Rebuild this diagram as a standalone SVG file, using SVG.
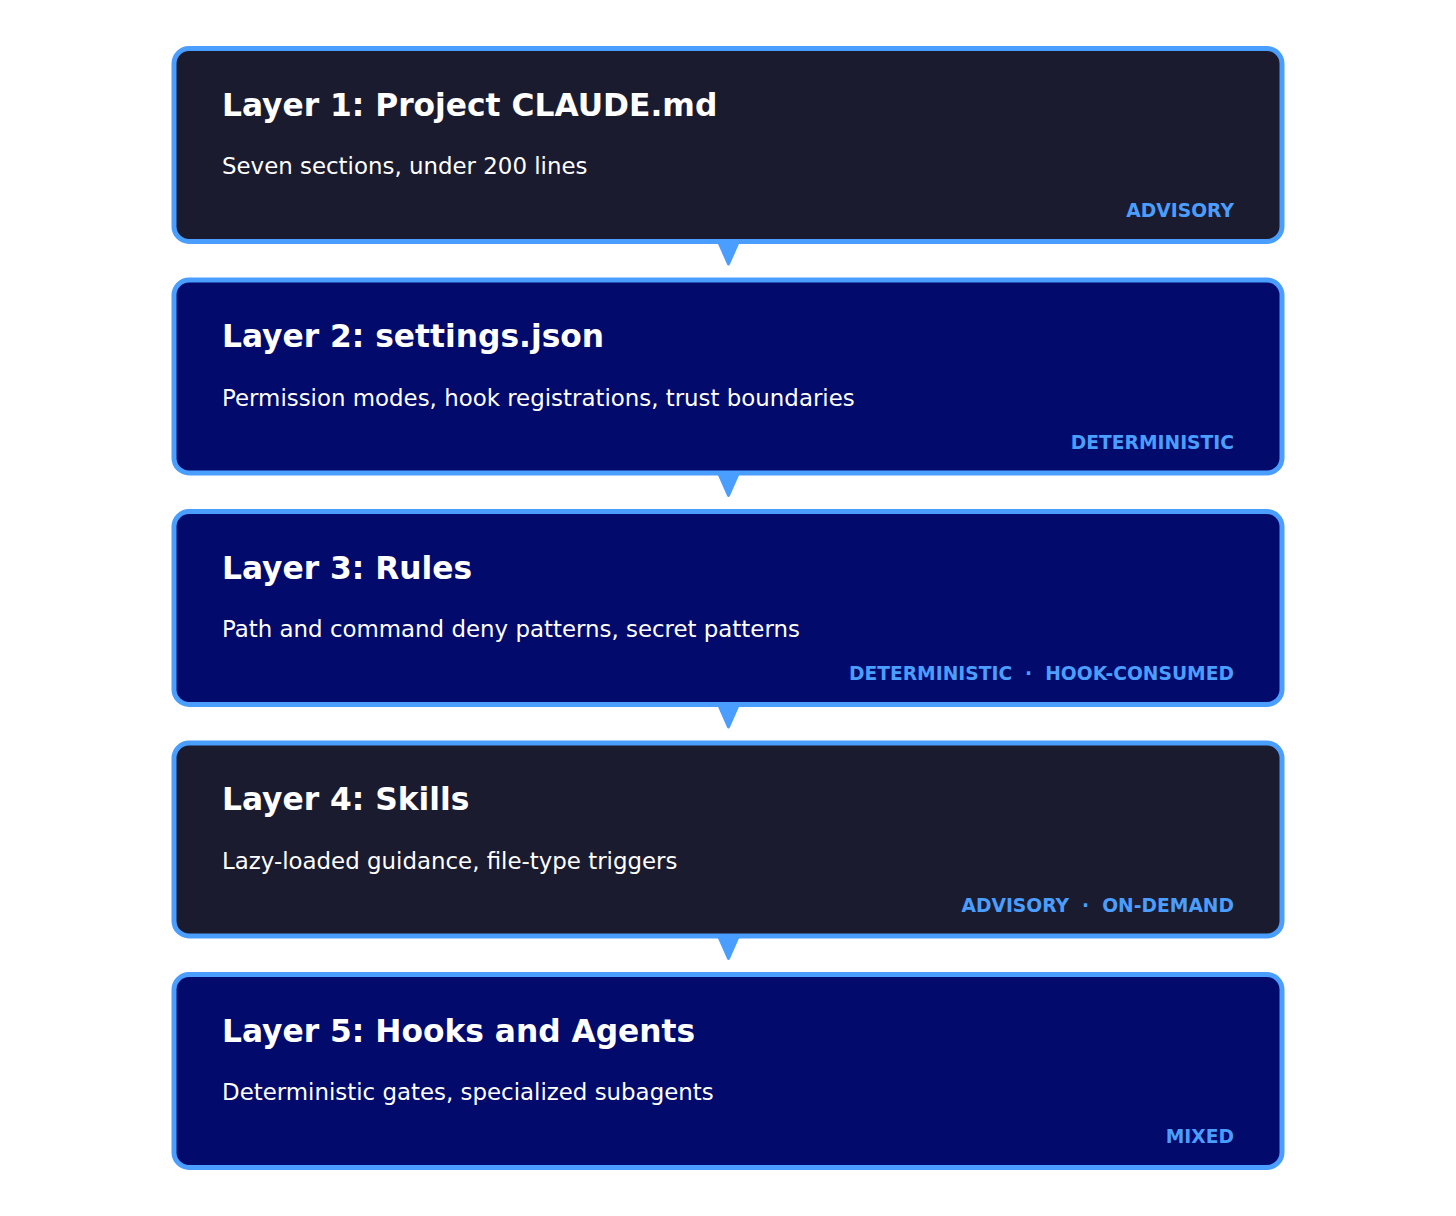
<svg xmlns="http://www.w3.org/2000/svg" width="1456" height="1216" viewBox="0 0 1456 1216">
<style>
.box{stroke:#4a9eff;stroke-width:5}
.dark{fill:#1b1b2f}
.navy{fill:#020a6b}
.title{font-family:"DejaVu Sans",sans-serif;font-weight:bold;font-size:31.3px;fill:#ffffff}
.sub{font-family:"DejaVu Sans",sans-serif;font-size:22.9px;fill:#ffffff}
.tag{font-family:"DejaVu Sans",sans-serif;font-weight:bold;font-size:18.7px;fill:#4a9eff;text-anchor:end;white-space:pre}
.arrow{fill:#4a9eff;stroke:#4a9eff;stroke-width:3;stroke-linejoin:round}
</style>
<rect width="1456" height="1216" fill="#ffffff"/>
<g id="connectors">
<polygon class="arrow" points="717,238 740,238 728.5,264"/>
<polygon class="arrow" points="717,469.5 740,469.5 728.5,495.5"/>
<polygon class="arrow" points="717,701 740,701 728.5,727"/>
<polygon class="arrow" points="717,932.5 740,932.5 728.5,958.5"/>
</g>
<g id="layer1">
<rect class="box dark" x="174" y="48.5" width="1108" height="193" rx="15"/>
<text class="title" x="222" y="115.5">Layer 1: Project CLAUDE.md</text>
<text class="sub" x="222" y="174">Seven sections, under 200 lines</text>
<text class="tag" x="1234" y="217">ADVISORY</text>
</g>
<g id="layer2">
<rect class="box navy" x="174" y="280" width="1108" height="193" rx="15"/>
<text class="title" x="222" y="347">Layer 2: settings.json</text>
<text class="sub" x="222" y="405.5">Permission modes, hook registrations, trust boundaries</text>
<text class="tag" x="1234" y="448.5">DETERMINISTIC</text>
</g>
<g id="layer3">
<rect class="box navy" x="174" y="511.5" width="1108" height="193" rx="15"/>
<text class="title" x="222" y="578.5">Layer 3: Rules</text>
<text class="sub" x="222" y="637">Path and command deny patterns, secret patterns</text>
<text class="tag" x="1234" y="680">DETERMINISTIC  ·  HOOK-CONSUMED</text>
</g>
<g id="layer4">
<rect class="box dark" x="174" y="743" width="1108" height="193" rx="15"/>
<text class="title" x="222" y="810">Layer 4: Skills</text>
<text class="sub" x="222" y="868.5">Lazy-loaded guidance, file-type triggers</text>
<text class="tag" x="1234" y="911.5">ADVISORY  ·  ON-DEMAND</text>
</g>
<g id="layer5">
<rect class="box navy" x="174" y="974.5" width="1108" height="193" rx="15"/>
<text class="title" x="222" y="1041.5">Layer 5: Hooks and Agents</text>
<text class="sub" x="222" y="1100">Deterministic gates, specialized subagents</text>
<text class="tag" x="1234" y="1143">MIXED</text>
</g>
</svg>
